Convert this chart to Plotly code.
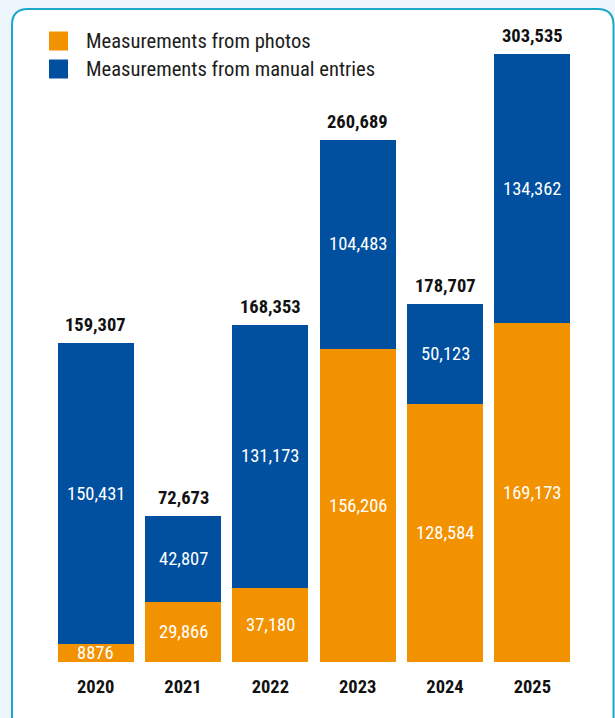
import plotly.graph_objects as go

years = ['2020', '2021', '2022', '2023', '2024', '2025']
photos = [8876, 29866, 37180, 156206, 128584, 169173]
manual = [150431, 42807, 131173, 104483, 50123, 134362]
totals = [159307, 72673, 168353, 260689, 178707, 303535]

ORANGE = '#f39200'
BLUE = '#00509f'
FONT = 'Liberation Sans Narrow, Roboto Condensed, Arial Narrow, Roboto, sans-serif'

W, H = 615, 718
ML, MR, MT, MB = 52, 39, 20, 56
PW, PH = W - ML - MR, H - MT - MB


def fmt(v):
    return f"{v:,}" if v >= 10000 else str(v)


def px(x):
    return (x - ML) / PW


def py(y):
    return (H - MB - y) / PH


fig = go.Figure()
fig.add_trace(go.Bar(x=years, y=photos, marker=dict(color=ORANGE, line=dict(width=0)),
                     name='Measurements from photos', hoverinfo='skip'))
fig.add_trace(go.Bar(x=years, y=manual, marker=dict(color=BLUE, line=dict(width=0)),
                     name='Measurements from manual entries', hoverinfo='skip'))

ann = []
for i, (p, m, t) in enumerate(zip(photos, manual, totals)):
    ann.append(dict(x=i, y=p / 2, text=fmt(p), showarrow=False, xref='x', yref='y',
                    font=dict(family=FONT, size=18.5, color='white')))
    ann.append(dict(x=i, y=p + m / 2, text=fmt(m), showarrow=False, xref='x', yref='y',
                    font=dict(family=FONT, size=18.5, color='white')))
    ann.append(dict(x=i, y=t, text='<b>' + fmt(t) + '</b>', showarrow=False, xref='x', yref='y',
                    yanchor='bottom', yshift=5,
                    font=dict(family=FONT, size=18.5, color='#111111')))

# custom legend
leg = [('Measurements from photos', ORANGE, 41), ('Measurements from manual entries', BLUE, 69)]
shapes = []
# panel
L, T, R, B, r = 12, 9, 613.5, 730, 16
path = (f"M {px(L)},{py(T + r)} L {px(L)},{py(B)} L {px(R)},{py(B)} L {px(R)},{py(T + r)} "
        f"Q {px(R)},{py(T)} {px(R - r)},{py(T)} L {px(L + r)},{py(T)} Q {px(L)},{py(T)} {px(L)},{py(T + r)} Z")
shapes.append(dict(type='path', xref='paper', yref='paper', path=path, fillcolor='white',
                   line=dict(color='#1ba8c9', width=2), layer='below'))
for label, col, yc in leg:
    shapes.append(dict(type='rect', xref='paper', yref='paper', x0=px(49), x1=px(68),
                       y0=py(yc - 9.5), y1=py(yc + 9.5), fillcolor=col, line=dict(width=0)))
    ann.append(dict(x=px(84), y=py(yc), xref='paper', yref='paper', text=label, showarrow=False,
                    xanchor='left', yanchor='middle',
                    font=dict(family=FONT, size=20.6, color='#1d1d1b')))

fig.update_layout(
    width=W, height=H, barmode='stack', bargap=0.13, showlegend=False,
    margin=dict(l=ML, r=MR, t=MT, b=MB, pad=0),
    paper_bgcolor='#ecf5fb', plot_bgcolor='rgba(0,0,0,0)',
    xaxis=dict(type='category', range=[-0.5, 5.5], showgrid=False, zeroline=False, showline=False,
               ticks='outside', ticklen=8, tickcolor='rgba(0,0,0,0)',
               tickfont=dict(family=FONT, size=18.5, color='#111111'),
               tickvals=years, ticktext=['<b>' + y + '</b>' for y in years]),
    yaxis=dict(range=[0, PH / 0.002003], visible=False, showgrid=False, zeroline=False),
    annotations=ann, shapes=shapes,
)

fig.write_html('out.html')
